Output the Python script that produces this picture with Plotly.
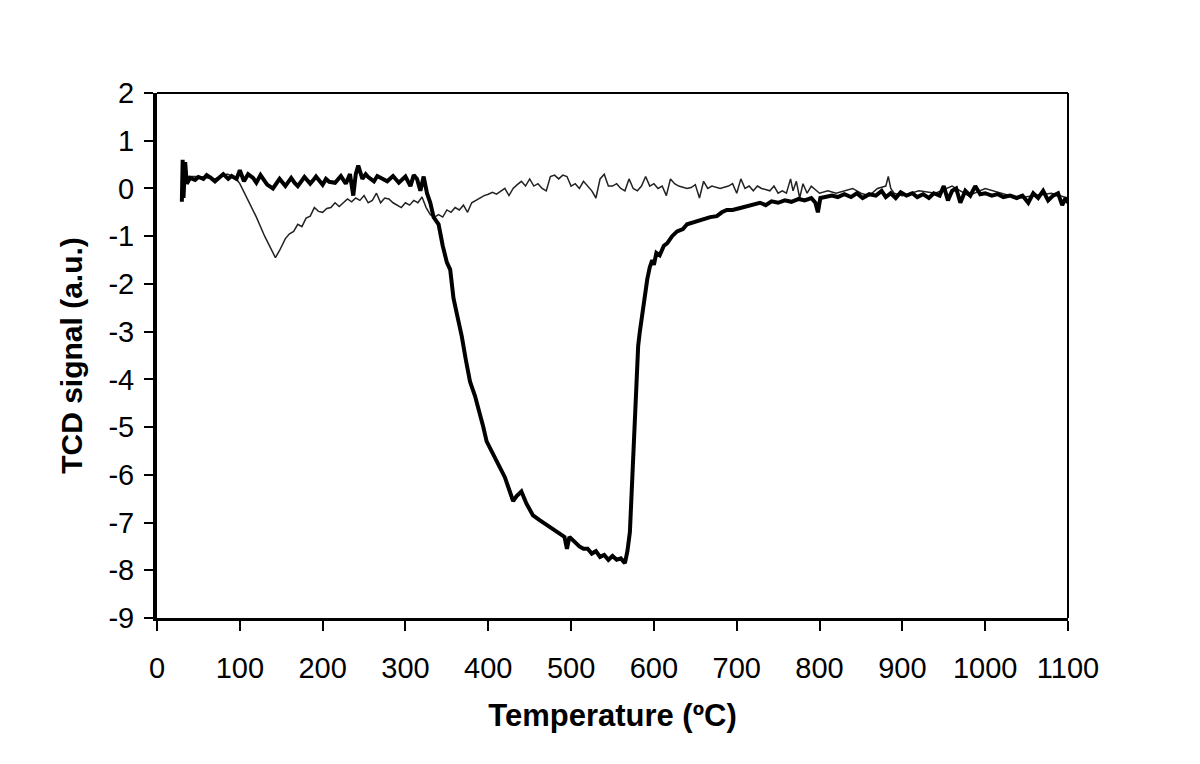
import plotly.graph_objects as go

# Thick curve (sample 1)
t1_x = [30, 31, 32, 34, 36, 40, 46, 50, 56, 60, 65, 70, 76, 80, 86, 90, 96, 100, 105, 110, 116, 120, 125, 129, 133, 140, 144, 148, 155,
        162, 166, 170, 178, 185, 189, 192, 200, 204, 208, 215, 222, 228, 233, 237, 240, 243, 248, 252, 255, 262, 266, 270, 278, 285,
        289, 292, 300, 306, 310, 314, 318, 322, 326, 330, 334, 340, 345, 350, 354, 358, 363, 368, 373, 378, 384,
        390, 394, 398, 405, 414, 420, 426, 430, 434, 440, 446, 454, 462, 470, 478, 486, 492, 495, 498, 504,
        510, 515, 520, 525, 530, 535, 540, 545, 550, 555, 560, 565, 568, 571, 573, 575, 577, 579, 581, 583,
        586, 589, 592, 595, 598, 600, 603, 607, 612, 616, 622, 628, 635, 640, 645, 652, 660, 668, 676, 682,
        688, 695, 702, 710, 718, 728, 735, 742, 750, 758, 766, 775, 782, 790, 795, 798, 801, 808, 815, 822,
        830, 838, 845, 852, 860, 868, 875, 880, 886, 892, 898, 905, 912, 918, 925, 932, 938, 945, 950, 955,
        960, 965, 970, 976, 982, 988, 994, 1000, 1008, 1015, 1022, 1030, 1038, 1045, 1052, 1058, 1064, 1070, 1076, 1082,
        1088, 1093, 1097, 1100]
t1_y = [-0.28, 0.6, -0.2, 0.55, 0.1, 0.22, 0.18, 0.24, 0.2, 0.28, 0.22, 0.15, 0.24, 0.3, 0.2, 0.26, 0.2, 0.38, 0.15, 0.3, 0.22, 0.12, 0.28, 0.18, 0.08, 0.0, 0.12, 0.2, 0.05,
        0.22, 0.12, 0.05, 0.24, 0.1, 0.18, 0.25, 0.08, 0.2, 0.14, 0.12, 0.26, 0.1, 0.3, -0.15, 0.3, 0.48, 0.2, 0.3, 0.24, 0.15, 0.26, 0.22, 0.15, 0.26,
        0.18, 0.12, 0.25, 0.05, 0.28, 0.2, -0.05, 0.25, -0.1, -0.3, -0.6, -0.75, -1.2, -1.55, -1.7, -2.3, -2.7, -3.1, -3.6, -4.05, -4.35,
        -4.7, -5.0, -5.3, -5.55, -5.85, -6.05, -6.35, -6.55, -6.45, -6.35, -6.6, -6.85, -6.95, -7.05, -7.15, -7.25, -7.3, -7.55, -7.3, -7.4,
        -7.5, -7.55, -7.55, -7.65, -7.6, -7.72, -7.68, -7.78, -7.7, -7.78, -7.75, -7.85, -7.6, -7.2, -6.4, -5.5, -4.6, -3.75, -3.3, -3.0,
        -2.6, -2.3, -1.9, -1.65, -1.5, -1.6, -1.35, -1.4, -1.2, -1.15, -1.0, -0.9, -0.85, -0.75, -0.72, -0.7, -0.65, -0.6, -0.58, -0.5,
        -0.45, -0.45, -0.42, -0.38, -0.35, -0.3, -0.35, -0.27, -0.3, -0.25, -0.28, -0.22, -0.25, -0.2, -0.3, -0.5, -0.2, -0.18, -0.15, -0.18,
        -0.12, -0.18, -0.1, -0.2, -0.12, -0.15, -0.05, -0.18, -0.1, -0.2, -0.08, -0.15, -0.1, -0.18, -0.12, -0.2, -0.1, -0.15, 0.05, -0.25,
        -0.05, 0.0, -0.3, -0.05, -0.15, 0.05, -0.12, -0.1, -0.15, -0.12, -0.18, -0.15, -0.2, -0.15, -0.3, -0.1, -0.2, -0.05, -0.25, -0.15,
        -0.1, -0.35, -0.2, -0.3]

# Thin curve (sample 2)
t2_x = [35, 50, 70, 85, 95, 100, 110, 120, 130, 138, 143, 148, 155, 160, 165, 170, 175, 180, 185, 190,
        195, 200, 205, 210, 215, 220, 225, 230, 235, 240, 245, 250, 255, 260, 265, 270, 275, 280, 285, 290,
        295, 300, 305, 310, 315, 320, 325, 330, 335, 340, 345, 350, 355, 360, 365, 370, 375, 380, 385, 390,
        395, 400, 405, 410, 415, 420, 425, 430, 435, 440, 445, 450, 455, 460, 465, 470, 475, 480, 485, 490,
        495, 500, 505, 510, 515, 520, 525, 530, 535, 540, 545, 550, 555, 560, 565, 570, 575, 580, 585, 590,
        595, 600, 605, 610, 615, 620, 625, 630, 640, 645, 650, 655, 660, 665, 670, 680, 690, 695, 700, 705,
        710, 715, 720, 725, 730, 740, 745, 750, 755, 760, 765, 768, 772, 776, 780, 785, 790, 800, 810, 820,
        830, 840, 850, 860, 870, 880, 883, 886, 890, 900, 920, 940, 960, 980, 1000, 1020, 1040, 1060, 1080, 1100]
t2_y = [0.25, 0.25, 0.2, 0.3, 0.22, 0.1, -0.25, -0.6, -1.0, -1.3, -1.45, -1.3, -1.05, -0.95, -0.9, -0.75, -0.8, -0.62, -0.58, -0.4,
        -0.48, -0.5, -0.42, -0.4, -0.3, -0.38, -0.3, -0.22, -0.28, -0.2, -0.25, -0.15, -0.3, -0.25, -0.1, -0.3, -0.2, -0.22, -0.3, -0.35,
        -0.4, -0.3, -0.35, -0.25, -0.3, -0.18, -0.4, -0.55, -0.6, -0.55, -0.6, -0.45, -0.5, -0.4, -0.45, -0.35, -0.5, -0.3, -0.25, -0.2,
        -0.15, -0.12, -0.08, -0.12, -0.05, 0.0, -0.15, 0.0, 0.08, 0.15, 0.05, 0.2, 0.05, 0.1, 0.0, -0.05, 0.25, 0.28, 0.2, 0.28,
        0.25, 0.05, 0.1, 0.0, 0.15, 0.05, -0.05, -0.2, 0.2, 0.3, 0.05, 0.05, 0.1, 0.0, -0.05, 0.2, 0.0, -0.05, 0.05, 0.25,
        0.05, 0.1, 0.0, 0.05, -0.15, 0.2, 0.1, 0.05, 0.0, 0.02, 0.08, -0.2, 0.15, 0.0, 0.05, 0.0, 0.05, 0.1, -0.1, 0.2,
        0.0, 0.05, -0.05, 0.05, 0.0, -0.05, 0.05, -0.1, -0.05, -0.1, 0.2, -0.05, 0.15, -0.2, 0.1, -0.1, 0.05, -0.1, -0.05, -0.1,
        -0.05, 0.0, -0.1, -0.15, 0.0, 0.05, 0.25, 0.0, -0.1, -0.15, -0.05, -0.1, 0.05, -0.15, 0.0, -0.1, -0.2, -0.15, -0.1, -0.2]

x_ticks = [0, 100, 200, 300, 400, 500, 600, 700, 800, 900, 1000, 1100]
y_ticks = [2, 1, 0, -1, -2, -3, -4, -5, -6, -7, -8, -9]

FONT = "Liberation Sans, Arial, sans-serif"

fig = go.Figure()
fig.add_trace(go.Scatter(x=t2_x, y=t2_y, mode="lines", line=dict(color="#222222", width=1.5),
                         showlegend=False))
fig.add_trace(go.Scatter(x=t1_x, y=t1_y, mode="lines", line=dict(color="black", width=4),
                         showlegend=False))

fig.update_layout(
    width=1200, height=764,
    margin=dict(l=149, r=140, t=85, b=154),
    paper_bgcolor="white", plot_bgcolor="white",
    font=dict(family=FONT, color="black"),
    xaxis=dict(range=[0, 1100], tickvals=x_ticks, ticktext=[str(v) for v in x_ticks],
               showgrid=False, zeroline=False, showline=True, linecolor="black", linewidth=3,
               ticks="outside", ticklen=10, tickwidth=2, tickcolor="black",
               tickfont=dict(size=29, family=FONT), ticklabelstandoff=12,
               title=dict(text="<b>Temperature (ºC)</b>", font=dict(size=31, family=FONT), standoff=22)),
    yaxis=dict(range=[-9, 2], tickvals=y_ticks, ticktext=[str(v) for v in y_ticks],
               showgrid=False, zeroline=False, showline=True, linecolor="black", linewidth=4,
               ticks="outside", ticklen=9, tickwidth=2, tickcolor="black",
               tickfont=dict(size=29, family=FONT), ticklabelstandoff=4,
               title=dict(text="<b>TCD signal (a.u.)</b>", font=dict(size=30, family=FONT), standoff=18)),
    shapes=[
        dict(type="line", xref="paper", yref="paper", x0=0, x1=1, y0=1, y1=1,
             line=dict(color="black", width=2)),
        dict(type="line", xref="paper", yref="paper", x0=1, x1=1, y0=0, y1=1,
             line=dict(color="black", width=2)),
    ],
)

fig.write_html("out.html")
